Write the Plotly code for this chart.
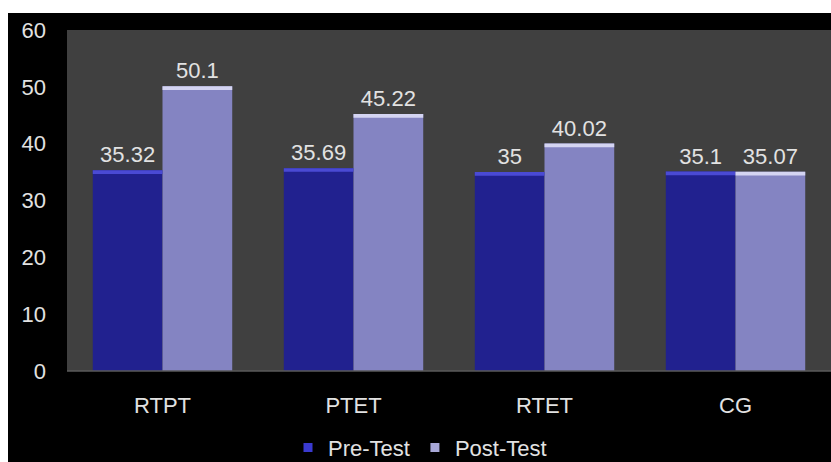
import plotly.graph_objects as go

categories = ["RTPT", "PTET", "RTET", "CG"]
pre_test = [35.32, 35.69, 35, 35.1]
post_test = [50.1, 45.22, 40.02, 35.07]
y_ticks = [0, 10, 20, 30, 40, 50, 60]

PRE_COLOR = "#21218f"
POST_COLOR = "#8484c2"
PRE_EDGE = "#4a4ad4"
POST_EDGE = "#d4d4f2"
FONT = "Liberation Sans, Arial, sans-serif"
TEXT_COLOR = "#e2e2e2"
FS = 22
CAP = 0.65  # thickness of the bevel strip on top of each bar (axis units)

fig = go.Figure()

fig.add_trace(go.Bar(
    x=categories, y=pre_test, name="Pre-Test", offsetgroup="pre",
    marker=dict(color=PRE_COLOR, line=dict(width=0)),
    text=[str(v) for v in pre_test], textposition="outside",
    textfont=dict(color=TEXT_COLOR, size=FS, family=FONT),
    cliponaxis=False, showlegend=False,
))
fig.add_trace(go.Bar(
    x=categories, y=post_test, name="Post-Test", offsetgroup="post",
    marker=dict(color=POST_COLOR, line=dict(width=0)),
    text=[str(v) for v in post_test], textposition="outside",
    textfont=dict(color=TEXT_COLOR, size=FS, family=FONT),
    cliponaxis=False, showlegend=False,
))
# bevel highlight along the top edge of each bar
fig.add_trace(go.Bar(
    x=categories, y=[CAP] * len(pre_test), base=[v - CAP for v in pre_test],
    offsetgroup="pre", marker=dict(color=PRE_EDGE, line=dict(width=0)),
    showlegend=False, hoverinfo="skip",
))
fig.add_trace(go.Bar(
    x=categories, y=[CAP] * len(post_test), base=[v - CAP for v in post_test],
    offsetgroup="post", marker=dict(color=POST_EDGE, line=dict(width=0)),
    showlegend=False, hoverinfo="skip",
))

# legend entries with small square keys
for name, color in [("Pre-Test", "#3a3ad0"), ("Post-Test", "#a8a8d8")]:
    fig.add_trace(go.Scatter(
        x=[None], y=[None], mode="markers", name=name,
        marker=dict(symbol="square", size=9, color=color),
    ))

fig.update_layout(
    width=831, height=462,
    margin=dict(l=67, r=0, t=30, b=91, autoexpand=False),
    paper_bgcolor="#000000",
    plot_bgcolor="#404040",
    barmode="group",
    bargap=0.27,
    bargroupgap=0,
    font=dict(family=FONT, color=TEXT_COLOR, size=FS),
    showlegend=True,
    legend=dict(
        orientation="h", x=(328 - 40 - 67) / 764, xanchor="left",
        y=-0.225, yanchor="middle",
        font=dict(size=FS, color=TEXT_COLOR, family=FONT),
        itemwidth=30, tracegroupgap=0, bgcolor="rgba(0,0,0,0)",
    ),
    xaxis=dict(
        showgrid=False, zeroline=False, showline=False, ticks="",
        ticklabelstandoff=19,
        tickfont=dict(size=FS, color=TEXT_COLOR, family=FONT),
    ),
    yaxis=dict(
        range=[0, 60], tickvals=y_ticks, showgrid=False, zeroline=False,
        showline=False, ticks="", ticklabelstandoff=20,
        tickfont=dict(size=FS, color=TEXT_COLOR, family=FONT),
    ),
    shapes=[
        # white page border along the top and left edges
        dict(type="rect", xref="paper", yref="paper",
             x0=-67 / 764, x1=1, y0=1 + 17 / 341, y1=1 + 30 / 341,
             fillcolor="#ffffff", line=dict(width=0), layer="above"),
        dict(type="rect", xref="paper", yref="paper",
             x0=-67 / 764, x1=-59 / 764, y0=-91 / 341, y1=1 + 30 / 341,
             fillcolor="#ffffff", line=dict(width=0), layer="above"),
        # thin baseline under the bars
        dict(type="line", xref="paper", yref="paper", x0=0, x1=1, y0=0, y1=0,
             line=dict(color="#5a5a5a", width=1.5), layer="above"),
    ],
)

fig.write_html("out.html")
